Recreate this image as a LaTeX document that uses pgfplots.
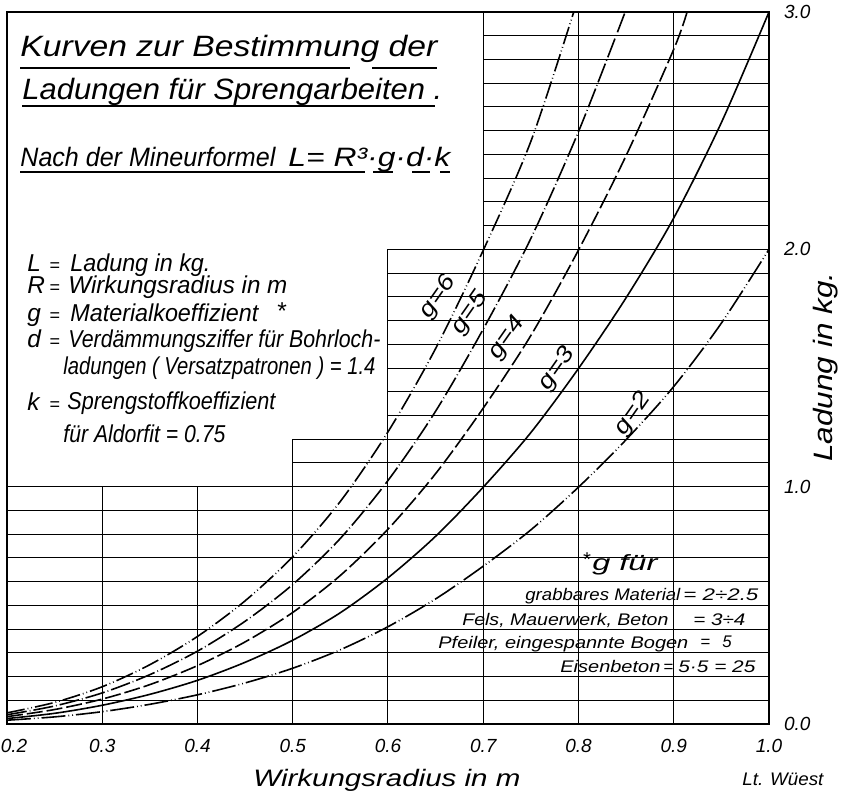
\documentclass[border=0pt]{standalone}
\usepackage{pgfplots}
\pgfplotsset{compat=1.18}
\usepackage{fontspec}
\setmainfont{Liberation Sans}
\usepackage{graphicx}
\newcommand\T[2]{\resizebox{\dimexpr #1pt/2\relax}{\height}{#2}}
\tikzset{t/.style={anchor=base west, inner sep=0pt, font=\fontsize{#1}{#1}\selectfont\itshape},
  gridl/.style={line width=0.5pt}}
\begin{document}
\begin{tikzpicture}
\path[use as bounding box] (-3.5pt,-35pt) rectangle (423pt,362pt);
\begin{axis}[
  at={(0,0)}, anchor=south west, scale only axis,
  width=381pt, height=356pt,
  xmin=0.2, xmax=1.0, ymin=0, ymax=3,
  axis line style={line width=1.2pt},
  xtick={0.2,0.3,0.4,0.5,0.6,0.7,0.8,0.9,1.0},
  xticklabels={\hspace{7pt}0.2,0.3,0.4,0.5,0.6,0.7,0.8,0.9,1.0},
  ytick={0,1,2,3}, yticklabels={0.0,1.0,2.0,3.0},
  yticklabel pos=right,
  major tick length=0pt,
  tick label style={font=\fontsize{9.5}{10}\selectfont\itshape},
  xticklabel style={anchor=base, yshift=-14pt, xshift=0pt},
  yticklabel style={anchor=west, xshift=4pt},
]
% stepped grid
\pgfplotsinvokeforeach{0.1,0.2,0.3,0.4,0.5,0.6,0.7,0.8,0.9,1.0}{\draw[gridl] (axis cs:0.2,#1) -- (axis cs:1.0,#1);}
\pgfplotsinvokeforeach{1.1,1.2}{\draw[gridl] (axis cs:0.5,#1) -- (axis cs:1.0,#1);}
\pgfplotsinvokeforeach{1.3,1.4,1.5,1.6,1.7,1.8,1.9,2.0}{\draw[gridl] (axis cs:0.6,#1) -- (axis cs:1.0,#1);}
\pgfplotsinvokeforeach{2.1,2.2,2.3,2.4,2.5,2.6,2.7,2.8,2.9}{\draw[gridl] (axis cs:0.7,#1) -- (axis cs:1.0,#1);}
\pgfplotsinvokeforeach{0.3,0.4}{\draw[gridl] (axis cs:#1,0) -- (axis cs:#1,1.0);}
\draw[gridl] (axis cs:0.5,0) -- (axis cs:0.5,1.2);
\draw[gridl] (axis cs:0.6,0) -- (axis cs:0.6,2.0);
\pgfplotsinvokeforeach{0.7,0.8,0.9}{\draw[gridl] (axis cs:#1,0) -- (axis cs:#1,3.0);}
% g = 2
\addplot[black, line width=0.8pt, smooth, dash pattern=on 12pt off 1.5pt on 0.4pt off 1.5pt on 0.4pt off 1.5pt] coordinates {
(0.2,0.016) (0.25,0.030) (0.3,0.052) (0.35,0.083) (0.4,0.123) (0.45,0.173) (0.5,0.235) (0.55,0.313) (0.6,0.410) (0.65,0.527) (0.7,0.665) (0.75,0.818) (0.8,0.998) (0.85,1.198) (0.9,1.422) (0.95,1.689) (1.0,2.0)};
% g = 3
\addplot[black, line width=0.8pt, smooth] coordinates {
(0.2,0.023) (0.25,0.045) (0.3,0.079) (0.35,0.125) (0.4,0.184) (0.45,0.260) (0.5,0.353) (0.55,0.469) (0.6,0.616) (0.65,0.791) (0.7,0.998) (0.75,1.228) (0.8,1.498) (0.85,1.796) (0.9,2.132) (0.95,2.534) (1.0,3.0)};
% g = 4
\addplot[black, line width=0.8pt, smooth, dash pattern=on 8pt off 2pt] coordinates {
(0.2,0.031) (0.25,0.061) (0.3,0.105) (0.35,0.166) (0.4,0.246) (0.45,0.346) (0.5,0.470) (0.55,0.626) (0.6,0.821) (0.65,1.055) (0.7,1.331) (0.75,1.637) (0.8,1.997) (0.85,2.395) (0.9,2.843) (0.914,3.0)};
% g = 5
\addplot[black, line width=0.8pt, smooth, dash pattern=on 10pt off 1.5pt on 0.4pt off 1.5pt] coordinates {
(0.2,0.039) (0.25,0.076) (0.3,0.131) (0.35,0.208) (0.4,0.307) (0.45,0.433) (0.5,0.588) (0.55,0.782) (0.6,1.026) (0.65,1.318) (0.7,1.664) (0.75,2.046) (0.8,2.496) (0.849,3.0)};
% g = 6
\addplot[black, line width=0.8pt, smooth, dash pattern=on 9pt off 1.5pt on 0.4pt off 1.5pt on 0.4pt off 1.5pt] coordinates {
(0.2,0.047) (0.25,0.091) (0.3,0.157) (0.35,0.250) (0.4,0.369) (0.45,0.519) (0.5,0.705) (0.55,0.938) (0.6,1.231) (0.65,1.582) (0.7,1.996) (0.75,2.455) (0.795,3.0)};
\end{axis}
\begin{scope}[shift={(-3.5pt,362pt)}, x=0.5pt, y=-0.5pt]
% title
\node[t=14.7] at (20,57) {\T{417}{Kurven zur Bestimmung der}};
\draw[line width=0.8pt] (20,68) -- (350,68) (372,68) -- (437,68);
\node[t=14.7] at (22,100) {\T{420}{Ladungen für Sprengarbeiten .}};
\draw[line width=0.8pt] (22,106) -- (435,106);
\node[t=13.3] at (20,167) {\T{255}{Nach der Mineurformel}};
\node[t=13.3] at (288,167) {\T{162}{L= R³·g·d·k}};
\draw[line width=0.8pt] (20,172) -- (365,172) (373,172) -- (393,172) (412,172) -- (430,172) (440,172) -- (450,172);
% legend
\foreach \s/\b in {L/272, R/294, g/322, d/348, k/410}{
  \node[t=12.2] at (27,\b) {\s};
  \node[t=9] at (49,\b) {=};
}
\node[t=12.2] at (70,272) {\T{140}{Ladung in kg.}};
\node[t=12.2] at (68,294) {\T{219}{Wirkungsradius in m}};
\node[t=12.2] at (70,322) {\T{188}{Materialkoeffizient}};
\node[t=12.2] at (276,320) {*};
\node[t=12.2] at (68,348) {\T{312}{Verdämmungsziffer für Bohrloch-}};
\node[t=12.2] at (63,375) {\T{312}{ladungen ( Versatzpatronen ) = 1.4}};
\node[t=12.2] at (67,410) {\T{208}{Sprengstoffkoeffizient}};
\node[t=12.2] at (63,443) {\T{162}{für Aldorfit = 0.75}};
% curve labels
\node[rotate=55, inner sep=0pt, font=\fontsize{11.5}{11.5}\selectfont\itshape] at (438,297) {\T{46}{g=6}};
\node[rotate=55, inner sep=0pt, font=\fontsize{11.5}{11.5}\selectfont\itshape] at (470,313) {\T{46}{g=5}};
\node[rotate=55, inner sep=0pt, font=\fontsize{11.5}{11.5}\selectfont\itshape] at (507,338) {\T{46}{g=4}};
\node[rotate=55, inner sep=0pt, font=\fontsize{11.5}{11.5}\selectfont\itshape] at (557,369) {\T{46}{g=3}};
\node[rotate=55, inner sep=0pt, font=\fontsize{11.5}{11.5}\selectfont\itshape] at (633,414) {\T{46}{g=2}};
% footnote table
\node[t=10] at (582,566) {*};
\node[t=11] at (592,570) {\T{65}{g für}};
\node[t=8.4] at (525,600) {\T{155}{grabbares Material}};
\node[t=8.4] at (683,600) {\T{75}{= 2÷2.5}};
\node[t=8.4] at (462,625) {\T{206}{Fels, Mauerwerk, Beton}};
\node[t=8.4] at (693,625) {\T{52}{= 3÷4}};
\node[t=8.4] at (438,648) {\T{250}{Pfeiler, eingespannte Bogen}};
\node[t=8.4] at (700,648) {=};
\node[t=8.4] at (722,648) {5};
\node[t=8.4] at (560,672) {\T{100}{Eisenbeton}};
\node[t=8.4] at (663,672) {=};
\node[t=8.4] at (678,672) {\T{77}{5·5 = 25}};
% axis titles
\node[t=11.9] at (253,786) {\T{267}{Wirkungsradius in m}};
\node[t=9.1] at (742,785) {\T{81}{Lt. Wüest}};
\node[t=13.3, rotate=90] at (832,462) {\T{189}{Ladung in kg.}};
\end{scope}
\end{tikzpicture}
\end{document}
